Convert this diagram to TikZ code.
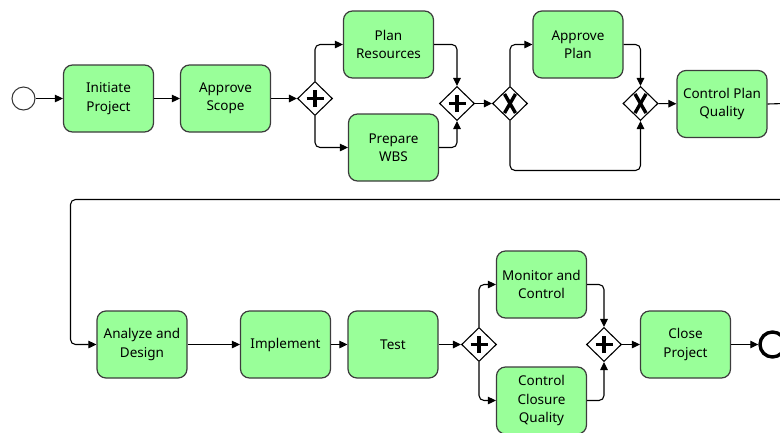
\documentclass[tikz,border=0pt]{standalone}
\usepackage{fontspec}
\setmainfont{Noto Sans}
\usetikzlibrary{arrows.meta,shapes.geometric}
\definecolor{taskgreen}{HTML}{99FF99}
\definecolor{taskedge}{HTML}{3C3C3C}
\tikzset{
  task/.style={draw=taskedge, fill=taskgreen, rounded corners=9pt, line width=1.2pt,
    minimum width=90pt, minimum height=67pt, inner sep=1pt, align=center,
    font=\fontsize{13.5}{18.5}\selectfont},
  gate/.style={diamond, draw=black, fill=white, line width=1.1pt,
    minimum width=35pt, minimum height=34pt, inner sep=0pt},
  event/.style={circle, draw=black!80, fill=white, line width=1pt,
    minimum size=23pt, inner sep=0pt},
  endevent/.style={circle, draw=black, fill=white, line width=3.4pt,
    minimum size=25pt, inner sep=0pt},
  flow/.style={-{Triangle[length=8pt,width=7.5pt]}, line width=1.1pt, rounded corners=5pt},
  plain/.style={line width=1.1pt, rounded corners=5pt},
  gatemark/.style={line width=3.6pt},
}
% parallel (+) and exclusive (X) gateway symbols
\newcommand{\plusmark}[1]{%
  \draw[gatemark] ([xshift=-8.5pt]#1.center) -- ([xshift=8.5pt]#1.center);
  \draw[gatemark] ([yshift=-8.5pt]#1.center) -- ([yshift=8.5pt]#1.center);}
\newcommand{\xmark}[1]{%
  \draw[gatemark, line width=3.4pt] ([xshift=-5.5pt,yshift=-9.5pt]#1.center) -- ([xshift=5.5pt,yshift=9.5pt]#1.center);
  \draw[gatemark, line width=3.4pt] ([xshift=-5.5pt,yshift=9.5pt]#1.center) -- ([xshift=5.5pt,yshift=-9.5pt]#1.center);}
\begin{document}
\begin{tikzpicture}[x=1pt, y=-1pt]
\useasboundingbox (0,0) rectangle (780,432);
\clip (0,0) rectangle (780,432);

% planning row
\node[event] (start) at (23.5,98.5) {};
\node[task] (init) at (108.5,98.5) {Initiate\\Project};
\node[task] (scope) at (225.5,98.5) {Approve\\Scope};
\node[gate] (g1) at (315,98.5) {};
\node[task] (pr) at (388.5,44.5) {Plan\\Resources};
\node[task] (wbs) at (393.5,147.5) {Prepare\\WBS};
\node[gate] (g2) at (457,103.5) {};
\node[gate] (g3) at (510,103.5) {};
\node[task] (ap) at (578,44.5) {Approve\\Plan};
\node[gate] (g4) at (640.5,103.5) {};
\node[task] (cpq) at (722,104) {Control Plan\\Quality};

\plusmark{g1}
\plusmark{g2}
\xmark{g3}
\xmark{g4}

% execution row
\node[task] (ad) at (142,344.5) {Analyze and\\Design};
\node[task] (impl) at (285.5,344.5) {Implement};
\node[task] (test) at (393,344.5) {Test};
\node[gate] (g5) at (479,344.5) {};
\node[task] (mc) at (541.5,284.5) {Monitor and\\Control};
\node[task] (ccq) at (541.5,400.5) {Control\\Closure\\Quality};
\node[gate] (g6) at (604,344.5) {};
\node[task] (cp) at (685.5,344.5) {Close\\Project};
\node[endevent] (stop) at (772.5,344.5) {};

\plusmark{g5}
\plusmark{g6}

% helper points for routed connectors
\coordinate (skip) at (510,170.5);
\coordinate (outR) at (784,103.5);
\coordinate (inR) at (784,199.5);
\coordinate (loopL) at (70.5,199.5);

% planning flows
\draw[flow] (start) -- (init);
\draw[flow] (init) -- (scope);
\draw[flow] (scope) -- (g1);
\draw[flow] (g1.north) |- (pr.west);
\draw[flow] (g1.south) |- (wbs.west);
\draw[flow] (pr.east) -| (g2.north);
\draw[flow] (wbs.east) -| (g2.south);
\draw[flow] (g2) -- (g3);
\draw[flow] (g3.north) |- (ap.west);
\draw[flow] (ap.east) -| (g4.north);
\draw[flow] (g3.south) -- (skip) -| (g4.south);
\draw[flow] (g4) -- (cpq);
\draw[plain] (cpq.east) -- (outR);
\draw[flow] (inR) -- (loopL) |- (ad.west);

% execution flows
\draw[flow] (ad) -- (impl);
\draw[flow] (impl) -- (test);
\draw[flow] (test) -- (g5);
\draw[flow] (g5.north) |- (mc.west);
\draw[flow] (g5.south) |- (ccq.west);
\draw[flow] (mc.east) -| (g6.north);
\draw[flow] (ccq.east) -| (g6.south);
\draw[flow] (g6) -- (cp);
\draw[flow] (cp) -- (stop);
\end{tikzpicture}
\end{document}
